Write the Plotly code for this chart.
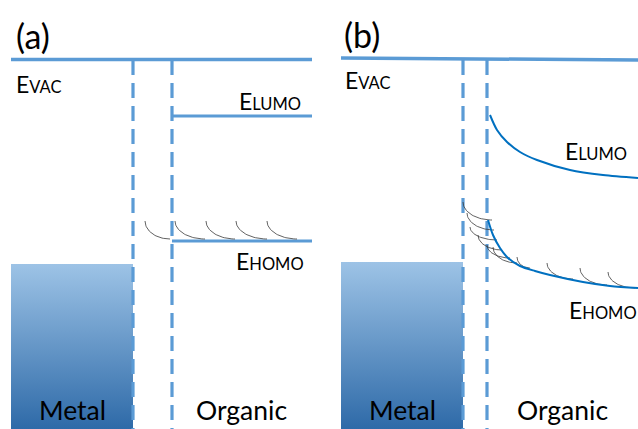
import numpy as np
import plotly.graph_objects as go

# ---------------- data (pixel-like diagram coordinates, y grows downward) ----------------
panel_labels = ["(a)", "(b)"]
panel_label_x = [33, 362]
panel_label_y = [35, 34]

# vacuum level lines
evac_a_x = [11, 312]
evac_a_y = [59.5, 59.5]
evac_b_x = [341, 638]
evac_b_y = [58, 60]

# interface (dashed) positions
iface_a_x = [133, 172]
iface_b_x = [463, 487]
iface_top = 60
iface_bottom = 429

# panel (a) flat levels
lumo_a_x = [172, 312]
lumo_a_y = [116, 116]
homo_a_x = [172, 312]
homo_a_y = [241, 241]

# panel (b) bent levels
lumo_b_x = [490, 497, 507, 520, 537, 570, 603, 638]
lumo_b_y = [115, 130, 142, 152, 160, 170, 175, 178]
homo_b_x = [488, 493, 500, 508, 520, 535, 550, 583, 610, 638]
homo_b_y = [220, 235, 248, 258, 266, 271, 275, 282, 286, 288]

# metal blocks: x-left, x-right, top
metal_left = [11, 341]
metal_right = [133, 463]
metal_top = [264, 262]
metal_bottom = 429

# small hopping arcs: start (x0,y0) -> end (x1,y1)
arcs_a = [(145, 221, 170, 239), (175, 221, 205, 239), (206, 221, 235, 239),
          (236, 221, 267, 239), (267, 221, 297, 239)]
arcs_b = [(463, 202, 492, 220), (467, 213, 494, 230), (470, 227, 497, 240),
          (478, 235, 502, 250), (487, 245, 510, 258), (493, 247, 517, 263),
          (517, 257, 530, 268), (547, 263, 573, 279), (580, 268, 607, 285),
          (608, 272, 635, 288)]

# text labels
level_texts = ["E<span style='font-size:16.5px'>VAC</span>",
               "E<span style='font-size:16.5px'>LUMO</span>",
               "E<span style='font-size:16.5px'>HOMO</span>",
               "E<span style='font-size:16.5px'>VAC</span>",
               "E<span style='font-size:16.5px'>LUMO</span>",
               "E<span style='font-size:16.5px'>HOMO</span>"]
level_text_x = [38, 270, 270, 367, 596, 603]
level_text_y = [84, 101, 261, 80, 151, 310]
material_texts = ["Metal", "Organic", "Metal", "Organic"]
material_x = [72, 241, 402, 562]
material_y = [410, 410, 410, 410]

# ---------------- styles ----------------
LINE_BLUE = "#5B9BD5"
CURVE_BLUE = "#0070C0"
FONT = "Lato"

fig = go.Figure()

# metal blocks with vertical gradient
for xl, xr, yt in zip(metal_left, metal_right, metal_top):
    fig.add_trace(go.Scatter(
        x=[xl, xr, xr, xl, xl], y=[yt, yt, metal_bottom, metal_bottom, yt],
        mode="none", fill="toself",
        fillgradient=dict(type="vertical", start=yt, stop=metal_bottom,
                          colorscale=[[0, "#9DC3E6"], [1, "#2E6AA8"]]),
        hoverinfo="skip", showlegend=False))

# dashed interface lines
for xs in (iface_a_x, iface_b_x):
    for xv in xs:
        fig.add_trace(go.Scatter(
            x=[xv, xv], y=[iface_top, iface_bottom], mode="lines",
            line=dict(color=LINE_BLUE, width=3.2, dash="15px,8px"),
            hoverinfo="skip", showlegend=False))

# vacuum lines
for xs, ys in ((evac_a_x, evac_a_y), (evac_b_x, evac_b_y)):
    fig.add_trace(go.Scatter(x=xs, y=ys, mode="lines",
                             line=dict(color=LINE_BLUE, width=3.5),
                             hoverinfo="skip", showlegend=False))

# flat levels (a)
for xs, ys in ((lumo_a_x, lumo_a_y), (homo_a_x, homo_a_y)):
    fig.add_trace(go.Scatter(x=xs, y=ys, mode="lines",
                             line=dict(color=LINE_BLUE, width=3.2),
                             hoverinfo="skip", showlegend=False))

# arcs
t = np.linspace(0, np.pi / 2, 30)
for (x0, y0, x1, y1) in arcs_a + arcs_b:
    ax = x1 - (x1 - x0) * np.cos(t)
    ay = y0 + (y1 - y0) * np.sin(t)
    fig.add_trace(go.Scatter(x=ax, y=ay, mode="lines",
                             line=dict(color="#3A3A3A", width=0.8),
                             hoverinfo="skip", showlegend=False))

# bent levels (b)
for xs, ys in ((lumo_b_x, lumo_b_y), (homo_b_x, homo_b_y)):
    fig.add_trace(go.Scatter(x=xs, y=ys, mode="lines",
                             line=dict(color=CURVE_BLUE, width=2, shape="spline", smoothing=0.8),
                             hoverinfo="skip", showlegend=False))

annotations = []
for txt, x, y in zip(panel_labels, panel_label_x, panel_label_y):
    annotations.append(dict(text=txt, x=x, y=y, xref="x", yref="y", showarrow=False,
                            xanchor="center", yanchor="middle",
                            font=dict(family=FONT, size=34, color="black")))
for txt, x, y in zip(level_texts, level_text_x, level_text_y):
    annotations.append(dict(text=txt, x=x, y=y, xref="x", yref="y", showarrow=False,
                            xanchor="center", yanchor="middle",
                            font=dict(family=FONT, size=23, color="black")))
for txt, x, y in zip(material_texts, material_x, material_y):
    annotations.append(dict(text=txt, x=x, y=y, xref="x", yref="y", showarrow=False,
                            xanchor="center", yanchor="middle",
                            font=dict(family=FONT, size=26.5, color="black")))

fig.update_layout(
    width=638, height=429,
    margin=dict(l=0, r=0, t=0, b=0),
    paper_bgcolor="white", plot_bgcolor="white",
    xaxis=dict(range=[0, 638], visible=False, fixedrange=True),
    yaxis=dict(range=[429, 0], visible=False, fixedrange=True),
    annotations=annotations,
    showlegend=False,
)

fig.write_html("out.html", config={"displayModeBar": False},
               post_script="document.body.style.margin='0';document.body.style.overflow='hidden';")
